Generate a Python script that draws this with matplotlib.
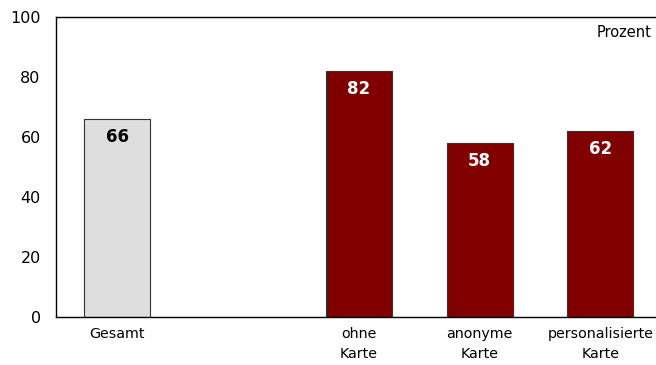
import matplotlib

matplotlib.use("Agg")
import matplotlib.pyplot as plt

categories = ["Gesamt", "ohne\nKarte", "anonyme\nKarte", "personalisierte\nKarte"]
positions = [0, 2, 3, 4]
values = [66, 82, 58, 62]
colors = ["#dedede", "#800000", "#800000", "#800000"]
label_colors = ["black", "white", "white", "white"]

fig = plt.figure(figsize=(6.56, 3.65), dpi=100)
ax = fig.add_axes([0.0854, 0.1315, 0.9146, 0.8219])

bars = ax.bar(positions, values, width=0.547, color=colors,
              edgecolor="#333333", linewidth=0.8)
for x, v, c in zip(positions, values, label_colors):
    ax.text(x, v - 6, f"{v}", ha="center", va="center",
            fontsize=12, fontweight="bold", color=c)

ax.set_xlim(-0.505, 4.46)
ax.set_ylim(0, 100)
ax.set_yticks([0, 20, 40, 60, 80, 100])
ax.set_xticks(positions)
ax.set_xticklabels(categories, fontsize=10.3)
ax.tick_params(axis="y", labelsize=11.5, length=0, pad=11)
ax.tick_params(axis="x", length=0, pad=7)
for lbl in ax.get_xticklabels():
    lbl.set_linespacing(1.55)

ax.spines["right"].set_visible(False)
for s in ("left", "top", "bottom"):
    ax.spines[s].set_linewidth(1.0)

ax.text(0.993, 0.947, "Prozent", transform=ax.transAxes, ha="right", va="center",
        fontsize=10.5)

fig.savefig("out.png", dpi=100)
